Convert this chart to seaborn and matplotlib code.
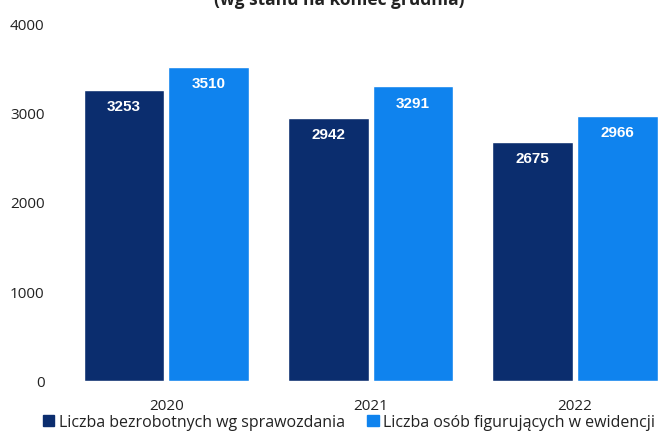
import pandas as pd
import matplotlib.pyplot as plt
import seaborn as sns

lata = ["2020", "2021", "2022"]
bezrobotni = [3253, 2942, 2675]
w_ewidencji = [3510, 3291, 2966]
serie = ["Liczba bezrobotnych wg sprawozdania", "Liczba osób figurujących w ewidencji"]
kolory = ["#0b2d6e", "#0f83ee"]

df = pd.DataFrame({
    "rok": lata * 2,
    "wartosc": bezrobotni + w_ewidencji,
    "seria": [serie[0]] * 3 + [serie[1]] * 3,
})

sns.set_style("white")
plt.rcParams["font.family"] = ["Open Sans", "DejaVu Sans"]

fig = plt.figure(figsize=(6.59, 4.39), dpi=100)
ax = fig.add_axes([64 / 659, 1 - 382 / 439, 595 / 659, 358 / 439])

sns.barplot(data=df, x="rok", y="wartosc", hue="seria", palette=kolory,
            width=0.83, gap=0.05, saturation=1, ax=ax, legend=False)

for cont in ax.containers:
    for bar in cont:
        h = bar.get_height()
        ax.text(bar.get_x() + bar.get_width() / 2, h - 180, f"{int(h)}",
                ha="center", va="center", color="white", fontsize=11,
                fontweight="bold", family="Liberation Sans")

ax.set_xlim(-0.5, 2.41)
ax.set_ylim(0, 4000)
ax.set_yticks([0, 1000, 2000, 3000, 4000])
ax.set_xlabel("")
ax.set_ylabel("")
sns.despine(ax=ax, left=True, bottom=True)
ax.tick_params(axis="y", length=0, pad=14, labelsize=11, colors="#222222")
ax.tick_params(axis="x", length=0, pad=12, labelsize=11, colors="#222222")

fig.text(0.515, 1.0, "(wg stanu na koniec grudnia)", ha="center", va="center",
         fontsize=12.5, fontweight="bold", color="#222222")

uchwyty = [plt.Rectangle((0, 0), 1, 1, color=c) for c in kolory]
fig.legend(uchwyty, serie, loc="lower center", bbox_to_anchor=(0.53, -0.014),
           ncol=2, frameon=False, fontsize=11.5, handlelength=0.7, handleheight=0.7,
           handletextpad=0.3, columnspacing=1.4, labelcolor="#222222")

fig.savefig("out.png", dpi=100)
